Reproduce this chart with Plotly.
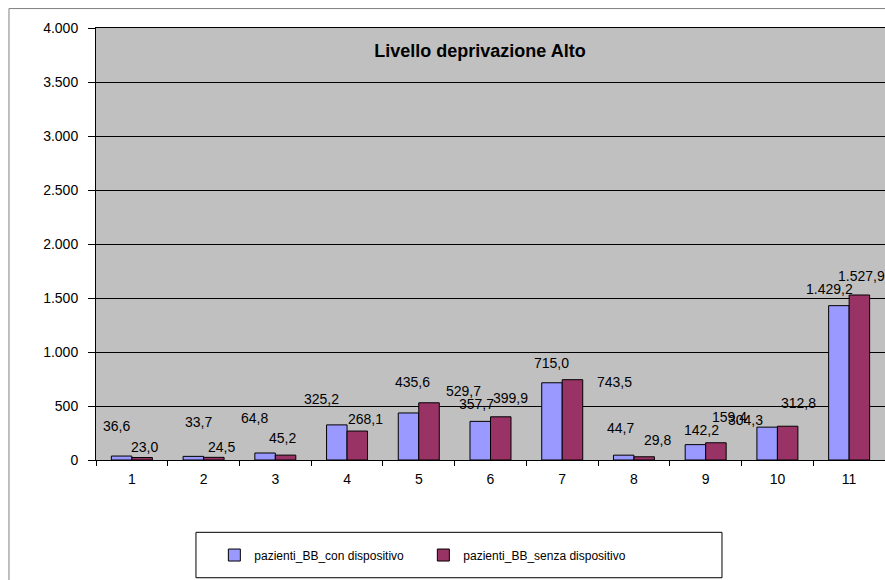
import plotly.graph_objects as go

categories = [str(i) for i in range(1, 12)]
con_dispositivo = [36.6, 33.7, 64.8, 325.2, 435.6, 357.7, 715.0, 44.7, 142.2, 304.3, 1429.2]
senza_dispositivo = [23.0, 24.5, 45.2, 268.1, 529.7, 399.9, 743.5, 29.8, 159.4, 312.8, 1527.9]
y_tickvals = [0, 500, 1000, 1500, 2000, 2500, 3000, 3500, 4000]

# label placement (pixel offsets from each bar's top centre)
con_dx = [-5, 5, -11, -15, 4, -4, 0, -3, 6, -22, -9]
con_up = [30, 34, 35, 26, 31, 17, 20, 27, 15, 7, 17]
senza_dx = [2, 8, -3, 8, 34, 10, 42, 13, 14, 11, 2]
senza_up = [11, 10, 17, 12, 12, 19, -2, 17, 26, 23, 19]

FONT = "Liberation Sans, Arial, sans-serif"
BLUE = "#9999FF"
PLUM = "#993366"


def it_num(v, dec=1):
    s = f"{v:,.{dec}f}"
    return s.replace(",", "X").replace(".", ",").replace("X", ".")


fig = go.Figure()
fig.add_trace(go.Bar(
    name="pazienti_BB_con dispositivo", x=categories, y=con_dispositivo,
    marker=dict(color=BLUE, line=dict(color="black", width=1)),
))
fig.add_trace(go.Bar(
    name="pazienti_BB_senza dispositivo", x=categories, y=senza_dispositivo,
    marker=dict(color=PLUM, line=dict(color="black", width=1)),
))

half = 10.25  # half bar width in px, offset of each bar from group centre
label_font = dict(family=FONT, size=14, color="black")
annotations = []
for idx, (v, dx, up) in enumerate(zip(con_dispositivo, con_dx, con_up)):
    annotations.append(dict(x=idx, y=v, text=it_num(v), showarrow=False,
                            xshift=-half + dx, yshift=up,
                            xanchor="center", yanchor="middle", font=label_font))
for idx, (v, dx, up) in enumerate(zip(senza_dispositivo, senza_dx, senza_up)):
    annotations.append(dict(x=idx, y=v, text=it_num(v), showarrow=False,
                            xshift=half + dx, yshift=up,
                            xanchor="center", yanchor="middle", font=label_font))

shapes = [
    # outer chart frame
    dict(type="rect", xref="paper", yref="paper", x0=-0.1103, y0=-0.40,
         x1=1.05, y1=1.045, line=dict(color="#808080", width=1), layer="below"),
    # legend frame
    dict(type="rect", xref="paper", yref="paper", x0=0.1267, y0=-0.2725,
         x1=0.7934, y1=-0.1674, line=dict(color="black", width=1),
         fillcolor="white", layer="below"),
]

fig.update_layout(
    width=885, height=580,
    margin=dict(l=96, r=0, t=28, b=120),
    paper_bgcolor="white",
    plot_bgcolor="#C0C0C0",
    separators=",.",
    barmode="group",
    bargap=0.4286,
    bargroupgap=0,
    font=dict(family=FONT, size=14, color="black"),
    title=dict(text="<b>Livello deprivazione Alto</b>", x=0.5424, y=0.9126,
               xanchor="center", yanchor="middle",
               font=dict(family=FONT, size=18, color="black")),
    xaxis=dict(type="category", tickson="boundaries", range=[-0.5, 10.5],
               ticks="outside", ticklen=5, tickcolor="black", showgrid=False,
               showline=True, linecolor="black", linewidth=1, mirror=True,
               ticklabelstandoff=6,
               tickfont=dict(family=FONT, size=14, color="black")),
    yaxis=dict(range=[0, 4000], tickvals=y_tickvals, tickformat=",.0f",
               ticks="outside", ticklen=7, tickcolor="black",
               ticklabelstandoff=7,
               showgrid=True, gridcolor="black", gridwidth=1,
               showline=True, linecolor="black", linewidth=1,
               zeroline=False,
               tickfont=dict(family=FONT, size=14, color="black")),
    showlegend=True,
    legend=dict(orientation="h", x=0.15, y=-0.22, xanchor="left",
                yanchor="middle", bgcolor="rgba(0,0,0,0)",
                font=dict(family=FONT, size=12, color="black"),
                entrywidth=164, traceorder="normal"),
    annotations=annotations,
    shapes=shapes,
)

fig.write_html("out.html")
